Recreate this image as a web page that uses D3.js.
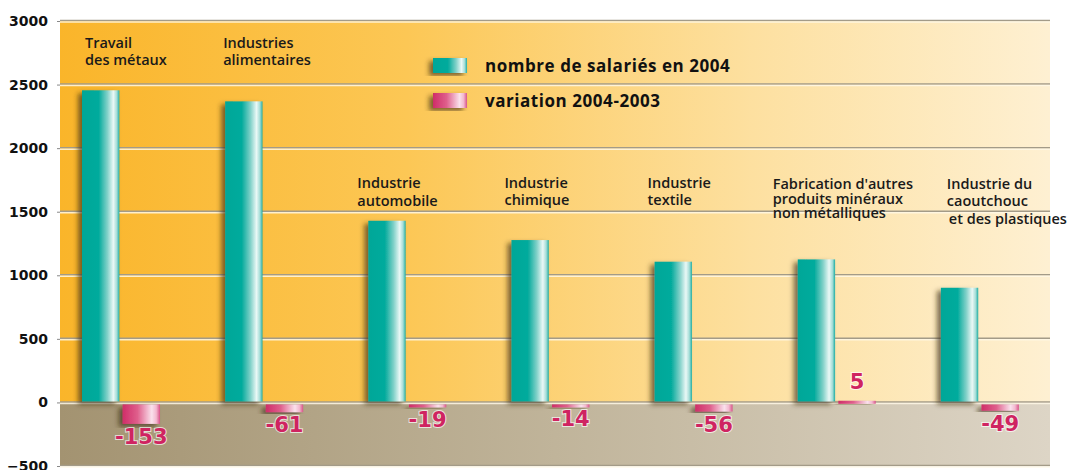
<!DOCTYPE html>
<html>
<head>
<meta charset="utf-8">
<script src="https://cdn.jsdelivr.net/npm/d3@7"></script>
<style>
  body { margin: 0; background: #fff; }
  svg { display: block; }
  .tick text { font-family: "DejaVu Sans", sans-serif; font-weight: bold; font-size: 14px; fill: #111; }
  .cat { font-family: "Open Sans", sans-serif; font-weight: 600; font-size: 14.5px; fill: #1a1a1a; }
  .leg { font-family: "Open Sans", sans-serif; font-weight: 700; font-size: 17px; letter-spacing: 0.55px; fill: #111; }
  .val { font-family: "DejaVu Sans", sans-serif; font-weight: bold; font-size: 21px; fill: #cf2461;
         stroke: #fff; stroke-width: 2px; paint-order: stroke; stroke-opacity: .7; }
</style>
</head>
<body>
<div id="chart"></div>
<script>
// data
const categories = [
  ['Travail', 'des métaux'],
  ['Industries', 'alimentaires'],
  ['Industrie', 'automobile'],
  ['Industrie', 'chimique'],
  ['Industrie', 'textile'],
  ["Fabrication d'autres", 'produits minéraux', 'non métalliques'],
  ['Industrie du', 'caoutchouc', 'et des plastiques']
];
const salaries2004 = [2455, 2368, 1429, 1277, 1107, 1125, 902];
const variation = [-153, -61, -19, -14, -56, 5, -49];
const yTicks = [-500, 0, 500, 1000, 1500, 2000, 2500, 3000];
const legendLabels = ['nombre de salariés en 2004', 'variation 2004-2003'];

// label layout (x offset in band, baseline in value units, line height, indent of last line)
const labelLayout = [
  { dx: 25, v: 2785, lh: 17, ind: 0 },
  { dx: 20, v: 2785, lh: 17, ind: 0 },
  { dx: 11, v: 1690, lh: 18, ind: 0 },
  { dx: 15, v: 1690, lh: 17, ind: 0 },
  { dx: 15, v: 1690, lh: 17, ind: 0 },
  { dx: -3, v: 1675, lh: 14.5, ind: 0 },
  { dx: 28, v: 1682, lh: 17.5, ind: 2 }
];

const width = 1072, height = 470;
const margin = { top: 21, right: 22, bottom: 4, left: 60 };
const plotRight = 1050;

const svg = d3.select('#chart').append('svg')
  .attr('width', width)
  .attr('height', height);

const yScale = d3.scaleLinear()
  .domain([-500, 3000])
  .range([height - margin.bottom, margin.top]);

const xScale = d3.scaleBand()
  .domain(d3.range(categories.length))
  .range([margin.left, 1062]);

const xSub = d3.scaleBand()
  .domain(['s', 'v'])
  .range([22, 100])
  .paddingInner(0.08);

const defs = svg.append('defs');

function linGrad(id, stops, x2, y2) {
  const g = defs.append('linearGradient').attr('id', id)
    .attr('x1', 0).attr('y1', 0).attr('x2', x2 || 1).attr('y2', y2 || 0);
  stops.forEach(s => g.append('stop').attr('offset', s[0]).attr('stop-color', s[1]));
}

linGrad('bgTop', [[0, '#fab52a'], [0.35, '#fcc755'], [0.7, '#fde0a0'], [1, '#fef0d2']]);
linGrad('bgBot', [[0, '#a39371'], [0.5, '#c0b49a'], [1, '#ddd5c6']]);
linGrad('teal', [[0, '#00a798'], [0.45, '#05ab9d'], [0.68, '#82d1c9'], [0.84, '#eaf8f6'], [0.93, '#a5ddd7'], [1, '#20ada2']]);
linGrad('pink', [[0, '#cf2d68'], [0.4, '#df5f8c'], [0.78, '#fae1ec'], [0.9, '#f3b8cf'], [1, '#d85388']]);

const shadow = defs.append('filter').attr('id', 'shadow')
  .attr('x', '-40%').attr('y', '-10%').attr('width', '180%').attr('height', '130%');
shadow.append('feDropShadow')
  .attr('dx', -4).attr('dy', 3).attr('stdDeviation', 2.5)
  .attr('flood-color', '#3b2a0c').attr('flood-opacity', 0.65);

// background panels
svg.append('rect')
  .attr('x', margin.left).attr('y', yScale(3000))
  .attr('width', plotRight - margin.left).attr('height', yScale(0) - yScale(3000))
  .attr('fill', 'url(#bgTop)');
svg.append('rect')
  .attr('x', margin.left).attr('y', yScale(0))
  .attr('width', plotRight - margin.left).attr('height', yScale(-500) - yScale(0))
  .attr('fill', 'url(#bgBot)');

// gridlines
const grid = svg.append('g');
grid.selectAll('.g1').data(yTicks).enter().append('line')
  .attr('x1', margin.left).attr('x2', plotRight)
  .attr('y1', d => yScale(d) - 0.5).attr('y2', d => yScale(d) - 0.5)
  .attr('stroke', '#a39b88').attr('stroke-width', 1.5);
grid.selectAll('.g2').data(yTicks).enter().append('line')
  .attr('x1', margin.left).attr('x2', plotRight)
  .attr('y1', d => yScale(d) + 1).attr('y2', d => yScale(d) + 1)
  .attr('stroke', '#fff8e6').attr('stroke-width', 1.5).attr('stroke-opacity', 0.85);

// y axis
const yAxis = d3.axisLeft(yScale)
  .tickValues(yTicks)
  .tickFormat(d3.format('d'))
  .tickSize(3)
  .tickPadding(9);

svg.append('g')
  .attr('transform', `translate(${margin.left},0)`)
  .call(yAxis)
  .call(g => g.select('.domain').remove())
  .call(g => g.selectAll('.tick line').attr('stroke', '#888'));

// bars
const groups = svg.selectAll('.grp').data(categories).enter().append('g')
  .attr('class', 'grp')
  .attr('transform', (d, i) => `translate(${xScale(i)},0)`);

groups.append('rect')
  .attr('x', xSub('s'))
  .attr('width', xSub.bandwidth())
  .attr('y', (d, i) => yScale(salaries2004[i]))
  .attr('height', (d, i) => yScale(0) - yScale(salaries2004[i]) - 1)
  .attr('fill', 'url(#teal)')
  .attr('filter', 'url(#shadow)');

groups.append('rect')
  .attr('x', xSub('v'))
  .attr('width', xSub.bandwidth())
  .attr('y', (d, i) => variation[i] < 0 ? yScale(0) + 2 : yScale(variation[i]) - 1)
  .attr('height', (d, i) => Math.max(3, Math.abs(yScale(variation[i]) - yScale(0))))
  .attr('fill', 'url(#pink)')
  .attr('filter', 'url(#shadow)');

// value labels
groups.append('text')
  .attr('class', 'val')
  .attr('text-anchor', 'middle')
  .attr('x', xSub('v') + xSub.bandwidth() / 2)
  .attr('y', (d, i) => variation[i] < 0
    ? yScale(variation[i]) + 22
    : yScale(variation[i]) - 13)
  .text((d, i) => variation[i]);

// category labels
groups.each(function (lines, i) {
  const L = labelLayout[i];
  const t = d3.select(this).append('text')
    .attr('class', 'cat')
    .attr('x', L.dx)
    .attr('y', yScale(L.v));
  lines.forEach((s, k) => {
    t.append('tspan')
      .attr('x', L.dx + (k === lines.length - 1 ? L.ind : 0))
      .attr('y', yScale(L.v) + k * L.lh)
      .text(s);
  });
});

// legend
const legend = svg.append('g').attr('transform', 'translate(433,58)');
const legFills = ['url(#teal)', 'url(#pink)'];
legendLabels.forEach((lab, i) => {
  legend.append('rect')
    .attr('x', 0).attr('y', i * 35)
    .attr('width', 34).attr('height', 15)
    .attr('fill', legFills[i])
    .attr('filter', 'url(#shadow)');
  legend.append('text')
    .attr('class', 'leg')
    .attr('x', 52).attr('y', i * 35 + 14)
    .text(lab);
});
</script>
</body>
</html>
